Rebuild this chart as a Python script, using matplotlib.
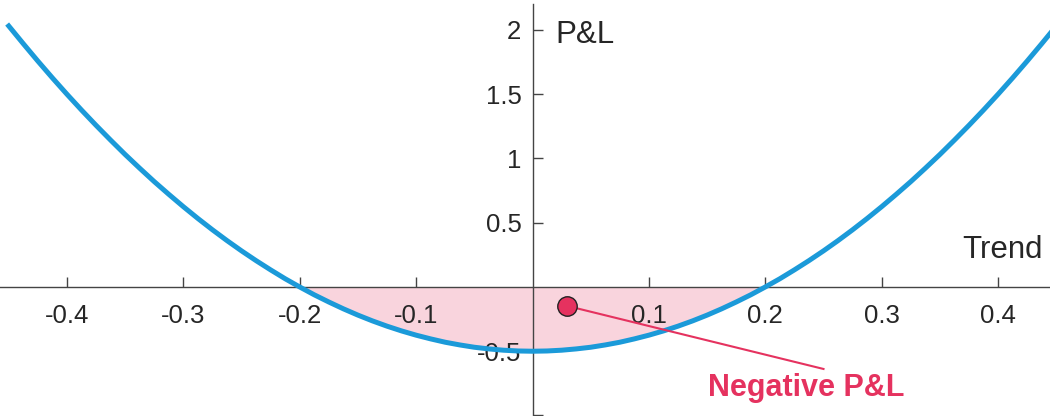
import numpy as np
import matplotlib.pyplot as plt

plt.rcParams['font.family'] = ['Liberation Sans', 'DejaVu Sans']

# P&L curve (trend -> P&L)
trend = [-0.45, -0.4375, -0.425, -0.4125, -0.40, -0.3875, -0.375, -0.3625,
         -0.35, -0.3375, -0.325, -0.3125, -0.30, -0.2875, -0.275, -0.2625,
         -0.25, -0.2375, -0.225, -0.2125, -0.20, -0.1875, -0.175, -0.1625,
         -0.15, -0.1375, -0.125, -0.1125, -0.10, -0.0875, -0.075, -0.0625,
         -0.05, -0.0375, -0.025, -0.0125, 0.0,
         0.0125, 0.025, 0.0375, 0.05, 0.0625, 0.075, 0.0875, 0.10,
         0.1125, 0.125, 0.1375, 0.15, 0.1625, 0.175, 0.1875, 0.20,
         0.2125, 0.225, 0.2375, 0.25, 0.2625, 0.275, 0.2875, 0.30,
         0.3125, 0.325, 0.3375, 0.35, 0.3625, 0.375, 0.3875, 0.40,
         0.4125, 0.425, 0.4375, 0.45]
pnl = [2.031, 1.893, 1.758, 1.627, 1.500, 1.377, 1.258, 1.143,
       1.031, 0.924, 0.820, 0.721, 0.625, 0.533, 0.445, 0.361,
       0.281, 0.205, 0.133, 0.064, 0.000, -0.061, -0.117, -0.170,
       -0.219, -0.264, -0.305, -0.342, -0.375, -0.404, -0.430, -0.451,
       -0.469, -0.482, -0.492, -0.498, -0.500,
       -0.498, -0.492, -0.482, -0.469, -0.451, -0.430, -0.404, -0.375,
       -0.342, -0.305, -0.264, -0.219, -0.170, -0.117, -0.061, 0.000,
       0.064, 0.133, 0.205, 0.281, 0.361, 0.445, 0.533, 0.625,
       0.721, 0.820, 0.924, 1.031, 1.143, 1.258, 1.377, 1.500,
       1.627, 1.758, 1.893, 2.031]

xticks = [-0.4, -0.3, -0.2, -0.1, 0.1, 0.2, 0.3, 0.4]
xtick_labels = ['-0.4', '-0.3', '-0.2', '-0.1', '0.1', '0.2', '0.3', '0.4']
yticks = [2, 1.5, 1, 0.5, -0.5, -1]
ytick_labels = ['2', '1.5', '1', '0.5', '-0.5', '']

marker_pt = (0.030, -0.148)
annot_end = (0.250, -0.638)

curve_col = '#1b9ad9'
fill_col = '#f9d4dd'
red = '#e5325f'
axis_col = '#444444'
text_col = '#262626'

fig = plt.figure(figsize=(10.5, 4.16), dpi=100)
ax = fig.add_axes([0, 0, 1, 1])
ax.set_xlim(-0.4575, 0.4446)
ax.set_ylim(-1.004, 2.233)

x = np.array(trend)
y = np.array(pnl)
neg = (x >= -0.2) & (x <= 0.2)
ax.fill_between(x[neg], y[neg], 0, color=fill_col, lw=0, zorder=1)
ax.plot(x, y, color=curve_col, lw=3.6, zorder=3, solid_joinstyle='round')

# axes through origin
for s in ['top', 'right']:
    ax.spines[s].set_visible(False)
ax.spines['left'].set_position(('data', 0))
ax.spines['bottom'].set_position(('data', 0))
ax.spines['left'].set_bounds(-1, 2.2)
for s in ['left', 'bottom']:
    ax.spines[s].set_color(axis_col)
    ax.spines[s].set_linewidth(1.0)
    ax.spines[s].set_zorder(2)

ax.set_xticks(xticks)
ax.set_xticklabels(xtick_labels)
ax.set_yticks(yticks)
ax.set_yticklabels(ytick_labels)
ax.tick_params(axis='x', direction='in', length=7, width=1.0, color=axis_col,
               labelsize=18.5, labelcolor=text_col, pad=12)
ax.tick_params(axis='y', direction='in', length=7, width=1.0, color=axis_col,
               labelsize=18.5, labelcolor=text_col, pad=8)

ax.text(0.0193, 1.96, 'P&L', fontsize=22.5, color=text_col, ha='left', va='center')
ax.text(0.4386, 0.29, 'Trend', fontsize=22.5, color=text_col, ha='right', va='center')

# annotation
ax.plot([marker_pt[0], annot_end[0]], [marker_pt[1], annot_end[1]],
        color=red, lw=1.5, zorder=4)
ax.plot(*marker_pt, 'o', ms=14, mfc=red, mec='#222222', mew=1.0, zorder=5)
ax.text(0.235, -0.79, 'Negative P&L', fontsize=22, fontweight='bold',
        color=red, ha='center', va='center')

fig.savefig('out.png', dpi=100)
